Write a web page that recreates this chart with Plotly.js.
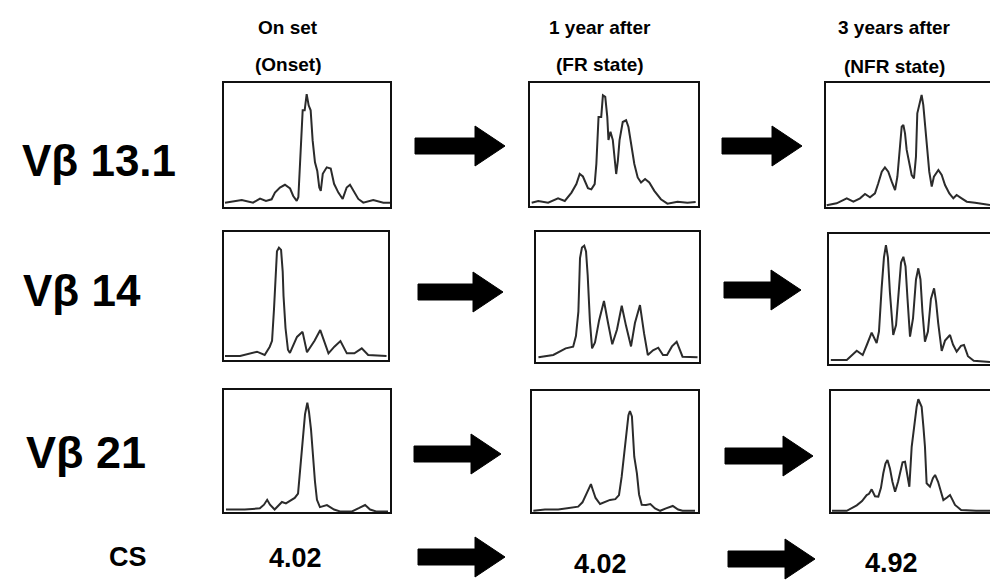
<!DOCTYPE html>
<html>
<head>
<meta charset="utf-8">
<script src="https://cdn.plot.ly/plotly-3.0.1.min.js"></script>
<style>html,body{margin:0;padding:0;background:#fff}#chart{width:990px;height:580px}</style>
</head>
<body>
<div id="chart"></div>
<script>
var rowLabels = ["Vβ 13.1", "Vβ 14", "Vβ 21"];
var colHeaders1 = ["On set", "1 year after", "3 years after"];
var colHeaders2 = ["(Onset)", "(FR state)", "(NFR state)"];
var csLabel = "CS";
var csValues = ["4.02", "4.02", "4.92"];

var vb131_onset_x = [0.6,10.7,17.5,21.7,25.3,28.7,30.7,33.7,36.7,39.8,41.7,43.8,44.8,45.8,47.4,48.6,49.8,51,52.2,53.4,54.8,56.2,57.4,58.3,59.5,61.9,64.3,66.3,68.9,71.5,73.9,75.9,77.7,80.9,83.9,89.9,96,100];
var vb131_onset_y = [3.5,5.7,3.5,6.8,4.9,6.2,11.6,15.7,17.9,14.9,8.9,4.9,8,40,78,78,91,82,78,53.7,36,29,15.7,13,26.8,32,31,18.7,11.6,6.5,15.7,17.9,14,6.5,3.5,5.7,3.5,3.5];

var vb131_fr_x = [1,4.9,10.8,16.7,20.7,24.7,27.6,29.6,31.5,32.5,34.5,36.5,38.5,39.5,40.8,42.4,43.4,44.8,46,46.7,47.9,49.3,50.3,51.3,52.3,53.3,55.2,57.2,58.6,60.2,62.1,64.1,66.1,68.5,71,74,77.9,81.8,87.8,93.7,98.6];
var vb131_fr_y = [2.7,4.1,2.7,6.3,4.1,10.9,17.8,26,24,20.5,14.5,13.5,17.8,34.2,72.4,72.4,90,88.8,72.4,53.6,60.3,53.6,39.6,26,36.9,53.6,68.3,69.7,64.2,50.4,34.2,23.2,19.1,21.9,19.1,12.3,5.5,1.9,3.5,2.7,3.3];

var vb131_nfr_x = [0.4,6.4,12.5,16.5,20.5,23.5,26.5,29.5,31.5,33.6,35.5,37.5,39.6,41.6,43,44.2,45.6,46.6,47.6,48.6,50.2,51.6,53,54.2,55,56.6,57.6,58.6,59.6,60.7,62.2,63.7,65,67.7,69.7,71.7,74.3,76.7,78.7,81.7,84.8,89.8,94.8,98.8];
var vb131_nfr_y = [1.4,3,7,4.3,7,10.5,7.8,11,19.1,28.5,32,28.5,20.4,13.7,24.4,46,64.8,66.1,59.4,46,33.9,25.8,23.1,40.6,75.6,86.3,90.3,82.3,67.5,46,28.5,16.4,24.4,29.8,25.8,17.7,11,7,9.7,7,4.3,3.5,2.2,1.6];

var vb14_onset_x = [0.6,9.8,20.1,24.8,27.9,29.3,30.5,31.4,32.3,33.5,34.8,35.8,36.3,37.5,39,40.2,44.5,47.9,50.6,55.2,58.7,63.7,67.3,71,74.9,79.5,84,87.9,99.1];
var vb14_onset_y = [3.1,3.1,6.5,3.9,10.4,15,40,70,85,87.7,86,69,50,25,8,5.5,18,22,6,15,23.4,5.2,10.4,14.8,5.2,5.2,9.1,3.9,3.1];

var vb14_fr_x = [1.5,10.6,18.2,22.8,24.5,26,27,28.2,29.6,30.7,31.7,33.1,34.4,36.2,38.7,41.7,44.2,46.8,49.7,52.6,55.2,58.3,60.7,63.8,66.3,68.6,71.8,75,77.9,80.4,83.4,86.3,89.9,99.1];
var vb14_fr_y = [3.6,5.4,10.5,11.8,20,38.7,80,88,89.5,85,66.9,30.9,10.5,15,32,46.9,30,13.6,25,43.3,28,12,30,43.8,22,5.4,9,11,5.4,5.4,12,15.6,4.1,3.6];

var vb14_nfr_x = [1.1,10.7,16.7,20.3,22.9,25.7,28.7,30.1,31.7,33.1,34.3,35.5,36.7,38.7,40.4,42.2,43.4,44.8,46.1,47.3,48.8,50.6,52.4,53.8,55.1,56.3,57.8,59.6,61.4,63.3,64.5,65.8,67.9,69.9,72.9,74.7,76.9,79.5,81.3,83.7,87.2,97];
var vb14_nfr_y = [3.1,3.1,10.2,6.9,15,24.1,16.2,25,58.2,82,91.5,82,55,22.3,30,60,78,82.5,75,50,21,35,65,73.6,65,40,17.2,25,50,58.2,48,31.3,10,18,22.3,15,9.5,14,14.6,6,2.5,1.5];

var vb21_onset_x = [1.2,12.5,21.6,24.1,26,27.7,30.5,33.1,34.9,37.3,39.8,42.6,44.6,45.8,47,47.9,48.8,50.2,51.2,52.4,53.6,54.8,56,57.8,62,66.3,69.9,77.1,81.5,85,88,91.6,98.8];
var vb21_onset_y = [2,2,3,6,10,6,2,6,8.2,7,9,11.5,15,35,55,68,80,89.6,82,68,45,25,10,4,5.7,2,0.5,0.5,3.3,5.7,2,0.5,0.5];

var vb21_fr_x = [0.8,7.8,15.8,21.7,27.8,30.4,32.5,34.3,35.5,36.7,38.3,41,44,47,50.2,52.4,54,55.6,57.1,58.1,59,60.2,61.6,63.2,64.5,66.1,68.7,71.3,74.1,77.2,80.7,84.8,88,90.7,98.2];
var vb21_fr_y = [1,2,2,3,4.4,8,14,20,23,18,11.6,6.6,8,10,10.6,14,29,48,70,80,83.5,79,45.7,32,14.5,6,5.8,6.6,3,1,3,5,2,1,1];

var vb21_nfr_x = [0.6,9.5,15.5,18.7,21.5,22.9,24.5,26.5,28.5,30.1,31.5,32.8,34,35.5,37,38.6,40.4,41.6,43.1,44.6,45.8,47.2,48.6,50,51.6,52.6,53.6,54.6,55.7,56.6,57.6,59.6,61.4,62.7,64.5,65.7,67.7,69.9,71.7,73.2,74.7,78.4,87.4,95.8];
var vb21_nfr_y = [1,1,5.5,9,14,15,18.7,13,12.7,20,32,40,43,36,25,16.8,25,33,41,41.5,32,20.9,53.9,70.4,87,93.2,90,87,70,53.9,23.7,20.9,28,30.6,25,19.7,9.9,12,14,10,5.8,1.7,1,1];

// ---- LAYOUT (pixel geometry of the figure) ----
var W = 990, H = 580;
function px(x){ return x / W; }
function py(y){ return 1 - y / H; }

var panels = [
  {x: vb131_onset_x, y: vb131_onset_y, l:224, r:390, t:83,  b:207},
  {x: vb131_fr_x,    y: vb131_fr_y,    l:530, r:698, t:83,  b:206},
  {x: vb131_nfr_x,   y: vb131_nfr_y,   l:826, r:992, t:83,  b:207},
  {x: vb14_onset_x,  y: vb14_onset_y,  l:224, r:388, t:232, b:360},
  {x: vb14_fr_x,     y: vb14_fr_y,     l:536, r:699, t:232, b:362},
  {x: vb14_nfr_x,    y: vb14_nfr_y,    l:829, r:995, t:234, b:364},
  {x: vb21_onset_x,  y: vb21_onset_y,  l:224, r:390, t:390, b:512},
  {x: vb21_fr_x,     y: vb21_fr_y,     l:532, r:698, t:391, b:512},
  {x: vb21_nfr_x,    y: vb21_nfr_y,    l:831, r:997, t:391, b:512}
];

var data = [];
var layout = {
  width: W, height: H,
  margin: {l:0, r:0, t:0, b:0},
  paper_bgcolor: '#ffffff',
  plot_bgcolor: '#ffffff',
  showlegend: false,
  font: {family: 'Liberation Sans, Arial, sans-serif', color: '#000'},
  annotations: [],
  shapes: []
};

panels.forEach(function(p, i){
  var n = i + 1;
  var xa = 'xaxis' + (n === 1 ? '' : n), ya = 'yaxis' + (n === 1 ? '' : n);
  var rightClip = Math.min(p.r, W);
  var xmax = (rightClip - p.l) / (p.r - p.l) * 100;
  data.push({
    type: 'scatter', mode: 'lines',
    x: p.x, y: p.y,
    xaxis: 'x' + (n === 1 ? '' : n), yaxis: 'y' + (n === 1 ? '' : n),
    line: {color: '#2b2b2b', width: 2, shape: 'linear'},
    hoverinfo: 'skip'
  });
  var clipped = p.r > W;
  layout[xa] = {
    domain: [px(p.l), px(rightClip)], range: [0, xmax],
    showgrid: false, zeroline: false, showticklabels: false, ticks: '',
    showline: true, linecolor: '#111', linewidth: 2, mirror: true,
    anchor: 'y' + (n === 1 ? '' : n), fixedrange: true
  };
  layout[ya] = {
    domain: [py(p.b), py(p.t)], range: [0, 100],
    showgrid: false, zeroline: false, showticklabels: false, ticks: '',
    showline: true, linecolor: '#111', linewidth: 2, mirror: !clipped,
    anchor: 'x' + (n === 1 ? '' : n), fixedrange: true
  };
});

// arrows
function arrow(x0, x1, yc){
  var sh = 8, hh = 20, hl = 30;
  var xs = x1 - hl;
  var pts = [[x0, yc - sh], [xs, yc - sh], [xs, yc - hh], [x1, yc], [xs, yc + hh], [xs, yc + sh], [x0, yc + sh]];
  var d = 'M ' + pts.map(function(q){ return px(q[0]) + ',' + py(q[1]); }).join(' L ') + ' Z';
  layout.shapes.push({type: 'path', xref: 'paper', yref: 'paper', path: d,
    fillcolor: '#000', line: {color: '#000', width: 1}});
}
arrow(415, 505, 146); arrow(722, 802, 146);
arrow(418, 503, 292); arrow(724, 801, 290);
arrow(414, 501, 454); arrow(725, 813, 456);
arrow(418, 505, 557); arrow(728, 815, 559);

function ann(text, x, y, size, xanchor){
  layout.annotations.push({text: text, x: px(x), y: py(y), xref: 'paper', yref: 'paper',
    showarrow: false, xanchor: xanchor || 'center', yanchor: 'middle',
    font: {family: 'Liberation Sans, Arial, sans-serif', size: size, color: '#000', weight: 'bold'}});
}
var hx = [288, 600, 894];
colHeaders1.forEach(function(t, i){ ann('<b>' + t + '</b>', hx[i], 28, 19); });
colHeaders2.forEach(function(t, i){ ann('<b>' + t + '</b>', hx[i], i === 2 ? 67 : 65, 19); });
ann('<b>' + rowLabels[0] + '</b>', 20, 160, 44, 'left');
ann('<b>' + rowLabels[1] + '</b>', 21, 290, 44, 'left');
ann('<b>' + rowLabels[2] + '</b>', 24, 452, 45, 'left');
ann('<b>' + csLabel + '</b>', 128, 557, 27);
ann('<b>' + csValues[0] + '</b>', 295, 558, 27);
ann('<b>' + csValues[1] + '</b>', 600, 564, 27);
ann('<b>' + csValues[2] + '</b>', 891, 563, 27);

Plotly.newPlot('chart', data, layout, {staticPlot: true, displayModeBar: false});
</script>
</body>
</html>
